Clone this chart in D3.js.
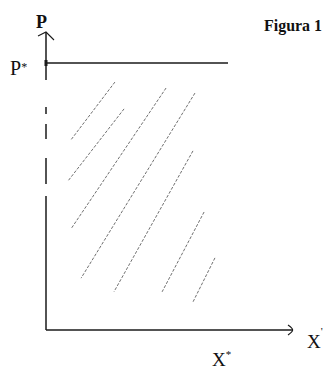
<!DOCTYPE html>
<html>
<head>
<meta charset="utf-8">
<script src="https://cdn.jsdelivr.net/npm/d3@7"></script>
<style>
  html, body { margin: 0; padding: 0; background: #fff; }
  svg { display: block; }
</style>
</head>
<body>
<script>
// ---- data (diagram units: X and P run 0..100 along the axes) ----
const pStarLevel = 89.6;          // P* horizontal line level
const pStarLineEnd = 73.7;        // where the P* line stops on X
const xStarPos = 71.3;            // X* label position on X
// broken vertical axis: [fromP, toP]
const yAxisSegments = [[100, 83.9], [74.8, 72.5], [69.1, 64.1], [57.7, 49.0], [45.0, 0]];
// hatch lines: [x1, p1, x2, p2]
const hatchLines = [
  [27.9, 83.2, 10.1, 63.8],
  [31.6, 74.2, 8.9, 50.0],
  [48.6, 81.2, 10.1, 33.9],
  [60.3, 79.5, 14.2, 17.4],
  [59.5, 60.1, 27.5, 12.8],
  [64.0, 39.6, 47.0, 12.8],
  [68.4, 24.2, 59.5, 9.4]
];
const labels = { title: "Figura 1", yName: "P", yStar: "P", xName: "X", xStar: "X" };

// ---- drawing ----
const W = 325, H = 370;
const svg = d3.select("body").append("svg").attr("width", W).attr("height", H);

const x = d3.scaleLinear().domain([0, 100]).range([46, 293]);
const y = d3.scaleLinear().domain([0, 100]).range([330, 32]);
const ink = "#1a1a1a";

// vertical axis (broken)
svg.append("g").selectAll("line").data(yAxisSegments).join("line")
  .attr("x1", x(0)).attr("x2", x(0))
  .attr("y1", d => y(d[0])).attr("y2", d => y(d[1]))
  .attr("stroke", ink).attr("stroke-width", 1.5);

// vertical arrow head (slightly lopsided)
svg.append("path")
  .attr("d", d3.line()([[x(0) - 8, y(100) + 4], [x(0), y(100)], [x(0) + 8, y(100) + 8]]))
  .attr("fill", "none").attr("stroke", ink).attr("stroke-width", 1.1);

// horizontal axis
svg.append("line")
  .attr("x1", x(0)).attr("x2", x(100)).attr("y1", y(0)).attr("y2", y(0))
  .attr("stroke", ink).attr("stroke-width", 1.5);
svg.append("path")
  .attr("d", d3.line().curve(d3.curveBasis)([[x(100) - 5, y(0) - 5], [x(100) - 1, y(0) - 2], [x(100), y(0)], [x(100) - 1, y(0) + 2], [x(100) - 5, y(0) + 5]]))
  .attr("fill", "none").attr("stroke", ink).attr("stroke-width", 1.1);

// P* line
svg.append("line")
  .attr("x1", x(0)).attr("x2", x(pStarLineEnd))
  .attr("y1", y(pStarLevel)).attr("y2", y(pStarLevel))
  .attr("stroke", ink).attr("stroke-width", 1.5);
svg.append("rect")
  .attr("x", x(0) - 1.5).attr("y", y(pStarLevel) - 3).attr("width", 3).attr("height", 6)
  .attr("fill", ink);

// hatch lines
svg.append("g").selectAll("line").data(hatchLines).join("line")
  .attr("x1", d => x(d[0])).attr("y1", d => y(d[1]))
  .attr("x2", d => x(d[2])).attr("y2", d => y(d[3]))
  .attr("stroke", "#707070").attr("stroke-width", 1)
  .attr("stroke-dasharray", "3,1.6");

// labels
const serif = "'Liberation Serif', 'DejaVu Serif', serif";
svg.append("text").text(labels.title)
  .attr("x", 264).attr("y", 31)
  .attr("font-family", serif).attr("font-weight", "bold").attr("font-size", 16)
  .attr("textLength", 58).attr("lengthAdjust", "spacingAndGlyphs").attr("fill", "#111");

svg.append("text").text(labels.yName)
  .attr("x", x(0) - 10).attr("y", 28)
  .attr("font-family", serif).attr("font-weight", "bold").attr("font-size", 18)
  .attr("fill", "#111");

const ps = svg.append("text").attr("x", 10).attr("y", y(pStarLevel) + 12)
  .attr("font-family", serif).attr("font-size", 20).attr("fill", "#111");
ps.append("tspan").text(labels.yStar);
ps.append("tspan").text("*").attr("font-size", 12).attr("dy", -4);

const xn = svg.append("text").attr("x", 307).attr("y", y(0) + 18)
  .attr("font-family", serif).attr("font-size", 19).attr("fill", "#111");
xn.append("tspan").text(labels.xName);
xn.append("tspan").text("'").attr("font-size", 11).attr("dy", -13);

const xs = svg.append("text").attr("x", x(xStarPos) - 10).attr("y", y(0) + 36)
  .attr("font-family", serif).attr("font-size", 19).attr("fill", "#111");
xs.append("tspan").text(labels.xStar);
xs.append("tspan").text("*").attr("font-size", 11).attr("dy", -8);
</script>
</body>
</html>
